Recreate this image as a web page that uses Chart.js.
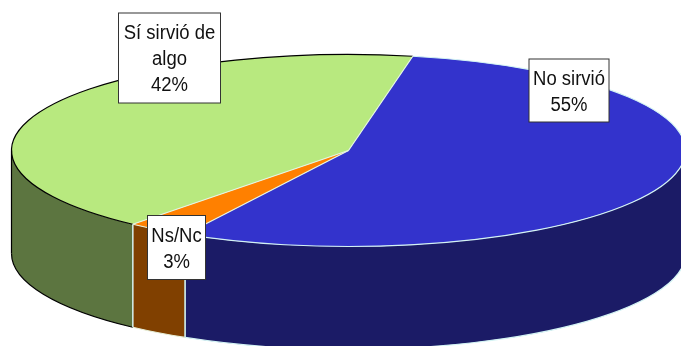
<!DOCTYPE html>
<html>
<head>
<meta charset="utf-8">
<style>
html, body { margin: 0; padding: 0; background: #ffffff; overflow: hidden; }
canvas { display: block; }
</style>
<script src="https://cdn.jsdelivr.net/npm/chart.js@4"></script>
</head>
<body>
<canvas id="pie_chart" width="681" height="346"></canvas>
<script>
var categories = ['No sirvió', 'Ns/Nc', 'Sí sirvió de algo'];
var values = [55, 3, 42];
var labelLines = [['No sirvió'], ['Ns/Nc'], ['Sí sirvió de', 'algo']];

var topColors = ['#3333cc', '#ff8000', '#b8e97f'];
var sideColors = ['#1b1b66', '#804000', '#5c7540'];
var edgeColors = ['#d4f4f4', '#e8f0d8', '#000000'];

// where the tilted pie sits on the page
var CX = 348.5, CY = 150.5, RX = 337, RY = 96, DEPTH = 103;
var labelBoxes = [
    {x: 529, y: 59, w: 80, h: 63},
    {x: 147.5, y: 215.5, w: 58, h: 64},
    {x: 118.5, y: 13, w: 102, h: 90}
];

function tilt(ctx, arc) {
    ctx.translate(CX, CY);
    ctx.scale(RX / arc.outerRadius, RY / arc.outerRadius);
    ctx.translate(-arc.x, -arc.y);
}

// the part of a slice's wall that faces us, from the slice's own angles
function wallPath(ctx, from, to) {
    ctx.beginPath();
    ctx.ellipse(CX, CY, RX, RY, 0, from, to);
    ctx.ellipse(CX, CY + DEPTH, RX, RY, 0, to, from, true);
    ctx.closePath();
}

var tiltedPie = {
    id: 'tiltedPie',
    beforeDatasetsDraw: function(chart) {
        var ctx = chart.ctx, arcs = chart.getDatasetMeta(0).data;
        arcs.forEach(function(arc, i) {
            var from = Math.max(arc.startAngle, 0), to = Math.min(arc.endAngle, Math.PI);
            if (to > from) {
                wallPath(ctx, from, to);
                ctx.fillStyle = sideColors[i];
                ctx.fill();
            }
        });
        ctx.save();
        tilt(ctx, arcs[0]);
    },
    afterDatasetsDraw: function(chart) {
        var ctx = chart.ctx, arcs = chart.getDatasetMeta(0).data;
        ctx.restore();
        ctx.lineWidth = 1.2;

        arcs.forEach(function(arc, i) {
            var a0 = arc.startAngle, a1 = arc.endAngle;
            ctx.strokeStyle = edgeColors[i];

            // rim of the top face
            ctx.beginPath();
            ctx.ellipse(CX, CY, RX, RY, 0, a0, a1);
            ctx.stroke();

            // wall outline, only the front half of the ellipse shows
            var from = Math.max(a0, 0), to = Math.min(a1, Math.PI);
            if (to > from) {
                ctx.beginPath();
                ctx.ellipse(CX, CY + DEPTH, RX, RY, 0, from, to);
                ctx.stroke();
                var vx = CX + RX * Math.cos(to), vy = CY + RY * Math.sin(to);
                ctx.beginPath();
                ctx.moveTo(vx, vy);
                ctx.lineTo(vx, vy + DEPTH);
                ctx.stroke();
            }
        });

        // spokes on the top face
        ctx.strokeStyle = '#e4f4e4';
        arcs.forEach(function(arc) {
            ctx.beginPath();
            ctx.moveTo(CX, CY);
            ctx.lineTo(CX + RX * Math.cos(arc.startAngle), CY + RY * Math.sin(arc.startAngle));
            ctx.stroke();
        });

        // wall seams between the slices
        ctx.strokeStyle = '#c8e8e8';
        [arcs[1], arcs[2]].forEach(function(arc) {
            var vx = CX + RX * Math.cos(arc.startAngle), vy = CY + RY * Math.sin(arc.startAngle);
            ctx.beginPath();
            ctx.moveTo(vx, vy);
            ctx.lineTo(vx, vy + DEPTH);
            ctx.stroke();
        });

        // data labels, the original type is a little narrow
        ctx.lineWidth = 1;
        ctx.font = '20px "Liberation Sans"';
        ctx.textAlign = 'center';
        ctx.textBaseline = 'alphabetic';
        labelBoxes.forEach(function(box, i) {
            ctx.fillStyle = '#ffffff';
            ctx.fillRect(box.x, box.y, box.w, box.h);
            ctx.strokeStyle = '#333333';
            ctx.strokeRect(box.x, box.y, box.w, box.h);
            ctx.fillStyle = '#111111';
            var lines = labelLines[i].concat(values[i] + '%');
            lines.forEach(function(line, n) {
                ctx.save();
                ctx.translate(box.x + box.w / 2, box.y + 26 + n * 26);
                ctx.scale(0.925, 1);
                ctx.fillText(line, 0, 0);
                ctx.restore();
            });
        });
    }
};

new Chart(document.getElementById('pie_chart').getContext('2d'), {
    type: 'pie',
    data: {
        labels: categories,
        datasets: [{
            data: values,
            backgroundColor: topColors,
            borderWidth: 0,
            clip: false
        }]
    },
    options: {
        responsive: false,
        animation: false,
        rotation: 11,
        events: [],
        plugins: {
            legend: { display: false },
            title: { display: false },
            tooltip: { enabled: false }
        }
    },
    plugins: [tiltedPie]
});
</script>
</body>
</html>
